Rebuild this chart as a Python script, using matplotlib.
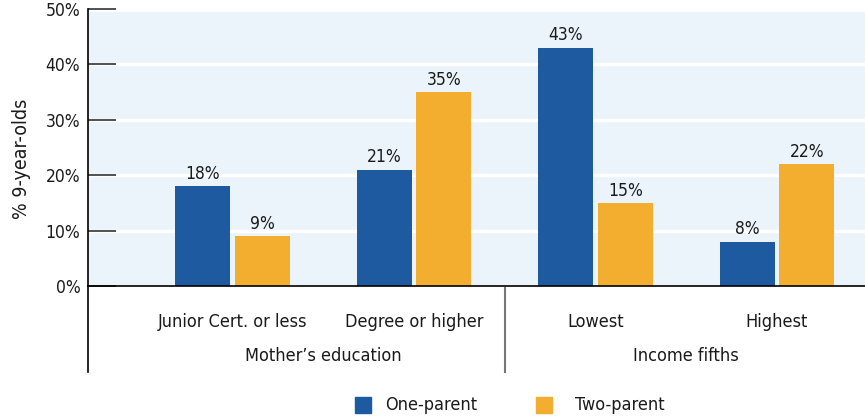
import matplotlib
matplotlib.use("Agg")
import matplotlib.pyplot as plt
import matplotlib.transforms as mtransforms
from matplotlib.patches import Rectangle

plt.rcParams['font.family'] = ['DejaVu Sans']
plt.rcParams['font.stretch'] = 'condensed'

categories = ["Junior Cert. or less", "Degree or higher", "Lowest", "Highest"]
groups = ["Mother\u2019s education", "Income fifths"]
one_parent = [18, 21, 43, 8]
two_parent = [9, 35, 15, 22]
yticks = [0, 10, 20, 30, 40, 50]
series_names = ["One-parent", "Two-parent"]

blue = "#1E5AA0"
orange = "#F3AE2F"
bg = "#EBF4FB"
txt = "#1a1a1a"

fig = plt.figure(figsize=(8.65, 4.2), dpi=100)
ax = fig.add_axes([88/865, (420-286)/420, 777/865, (286-9)/420])
ax.set_facecolor("white")
ax.axhspan(0, 49.5, color=bg, zorder=0, lw=0)
for y in yticks[1:-1]:
    ax.axhline(y, color="white", lw=2.5, zorder=1)

x = list(range(len(categories)))
w = 0.303
off = 0.165
b1 = ax.bar([i - off for i in x], one_parent, width=w, color=blue, zorder=2)
b2 = ax.bar([i + off for i in x], two_parent, width=w, color=orange, zorder=2)
for bars, vals in ((b1, one_parent), (b2, two_parent)):
    for r, v in zip(bars, vals):
        ax.text(r.get_x() + r.get_width()/2, v + 0.6, f"{v}%", ha="center", va="bottom",
                fontsize=12.5, color=txt)

ax.set_xlim(-0.796, 3.485)
ax.set_ylim(0, 50)
ax.set_yticks(yticks)
ax.set_yticklabels([f"{v}%" for v in yticks], fontsize=12.5, color=txt)
ax.tick_params(axis="y", direction="in", length=20, width=1.2, color="#333333", pad=5.5)
ax.set_xticks([])
for s in ["top", "right"]:
    ax.spines[s].set_visible(False)
ax.spines["left"].set_color("black")
ax.spines["bottom"].set_color("black")
ax.spines["left"].set_linewidth(1.2)
ax.spines["bottom"].set_linewidth(1.2)
fig.text(22/865, (420-159)/420, "% 9-year-olds", rotation=90, ha="center", va="center",
         fontsize=14, color=txt)

trans = mtransforms.blended_transform_factory(ax.transData, ax.transAxes)
ax_px = 286 - 9
def yax(py):
    return (286 - py) / ax_px

# left spine extension and group separator
ax.plot([-0.796, -0.796], [0, yax(372)], transform=trans, color="black", lw=1.2, clip_on=False)
ax.plot([1.5, 1.5], [yax(288), yax(372)], transform=trans, color="#777777", lw=1.5, clip_on=False)

for i, c in enumerate(categories):
    ax.text(i, yax(322), c, transform=trans, ha="center", va="center", fontsize=13, color=txt)
for gx, g in zip([0.5, 2.5], groups):
    ax.text(gx, yax(356), g, transform=trans, ha="center", va="center", fontsize=13, color=txt)

# legend
ly = (420 - 405) / 420
for sx, tx, col, name in ((355, 385, blue, series_names[0]), (536, 575, orange, series_names[1])):
    fig.patches.append(Rectangle((sx/865, ly - 8/420), 16/865, 16/420, transform=fig.transFigure,
                                 color=col, figure=fig))
    fig.text(tx/865, ly, name, ha="left", va="center", fontsize=13, color=txt)

fig.savefig("out.png", dpi=100)
